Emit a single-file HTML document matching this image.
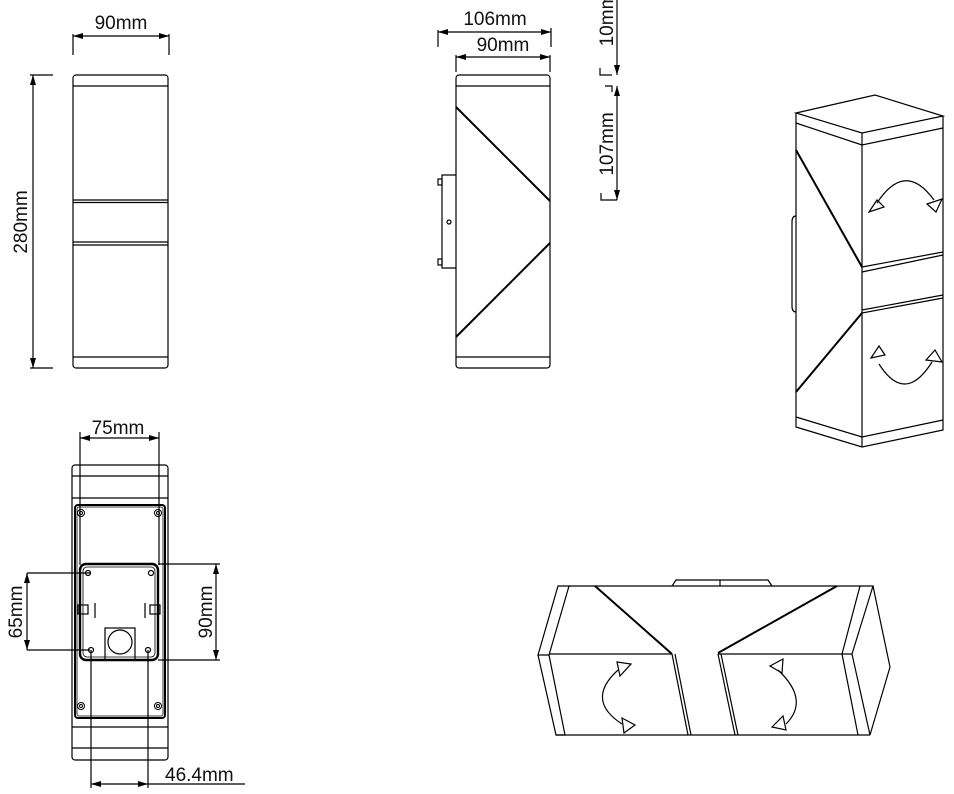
<!DOCTYPE html>
<html><head><meta charset="utf-8"><style>
html,body{margin:0;padding:0;background:#fff}
svg{display:block}
text{font-family:"Liberation Sans",sans-serif;font-size:19px;fill:#111}
</style></head><body>
<svg width="954" height="794" viewBox="0 0 954 794" xmlns="http://www.w3.org/2000/svg">
<defs>
<marker id="a" viewBox="0 0 10 6" refX="10" refY="3" markerWidth="10" markerHeight="6" orient="auto-start-reverse" markerUnits="userSpaceOnUse"><path d="M0,0L10,3L0,6z" fill="#000"/></marker>
</defs>
<g fill="none" stroke="#000" stroke-width="1.2">
<!-- View 1 -->
<rect x="73" y="75" width="95" height="293" rx="3"/>
<line x1="73" y1="86" x2="168" y2="86"/>
<line x1="73" y1="200" x2="168" y2="200"/><line x1="73" y1="202.5" x2="168" y2="202.5"/>
<line x1="73" y1="242" x2="168" y2="242"/><line x1="73" y1="245" x2="168" y2="245"/>
<line x1="73" y1="357" x2="168" y2="357"/>
<line x1="73" y1="34" x2="73" y2="55"/><line x1="169" y1="34" x2="169" y2="55"/>
<line x1="73" y1="36" x2="169" y2="36" marker-start="url(#a)" marker-end="url(#a)"/>
<line x1="33" y1="75" x2="33" y2="368" marker-start="url(#a)" marker-end="url(#a)"/>
<line x1="30" y1="75" x2="53" y2="75"/><line x1="30" y1="368" x2="53" y2="368"/>

<!-- View 2 -->
<rect x="456" y="75" width="94" height="293" rx="3"/>
<line x1="456" y1="86" x2="550" y2="86"/><line x1="456" y1="357" x2="550" y2="357"/>
<line x1="456" y1="107" x2="550" y2="201" stroke-width="2"/>
<line x1="550" y1="243" x2="456" y2="337" stroke-width="2"/>
<polyline points="456,175 442,175 442,268 456,268"/>
<rect x="438" y="179" width="4" height="6"/><rect x="438" y="259" width="4" height="6"/>
<circle cx="449" cy="222" r="2"/>
<line x1="438" y1="30" x2="438" y2="47"/><line x1="551" y1="28" x2="551" y2="47"/>
<line x1="438" y1="32" x2="551" y2="32" marker-start="url(#a)" marker-end="url(#a)"/>
<line x1="456" y1="55" x2="456" y2="72"/><line x1="550" y1="55" x2="550" y2="72"/>
<line x1="456" y1="57" x2="550" y2="57" marker-start="url(#a)" marker-end="url(#a)"/>
<line x1="617" y1="0" x2="617" y2="75" marker-end="url(#a)"/>
<polyline points="600,68 600,75 612,75"/>
<line x1="617" y1="86" x2="617" y2="200" marker-start="url(#a)" marker-end="url(#a)"/>
<polyline points="605,86 612,86 612,92"/>
<polyline points="601,193 601,200 617,200"/>

<!-- View 3 -->
<rect x="72" y="465" width="96" height="295" rx="3"/>
<line x1="72" y1="476" x2="168" y2="476"/><line x1="72" y1="498" x2="168" y2="498"/>
<line x1="72" y1="727" x2="168" y2="727"/><line x1="72" y1="748" x2="168" y2="748"/>
<rect x="75" y="505" width="90" height="213" rx="3" stroke-width="2"/>
<rect x="77" y="507" width="86" height="209" rx="2" stroke-width="0.8"/>
<g stroke-width="1"><circle cx="81" cy="513" r="3.5"/><circle cx="158" cy="513" r="3.5"/><circle cx="81" cy="706" r="3.5"/><circle cx="158" cy="706" r="3.5"/>
<circle cx="81" cy="513" r="1.5"/><circle cx="158" cy="513" r="1.5"/><circle cx="81" cy="706" r="1.5"/><circle cx="158" cy="706" r="1.5"/></g>
<rect x="80" y="564" width="78" height="96" rx="6" stroke-width="2.4"/>
<rect x="83" y="567" width="72" height="90" rx="4" stroke-width="0.8"/>
<circle cx="88" cy="573" r="2.5"/><circle cx="151" cy="573" r="2.5"/><circle cx="91" cy="650" r="2.5"/><circle cx="148" cy="650" r="2.5"/>
<rect x="78" y="605" width="10" height="9"/><rect x="150" y="605" width="10" height="9"/>
<polyline points="95,603 95,618"/><polyline points="145,603 145,618"/>
<rect x="105" y="628" width="30" height="32"/><circle cx="120" cy="642" r="12"/>
<line x1="80" y1="432" x2="80" y2="565"/><line x1="159" y1="432" x2="159" y2="565"/>
<line x1="80" y1="438" x2="159" y2="438" marker-start="url(#a)" marker-end="url(#a)"/>
<line x1="27" y1="573" x2="90" y2="573"/><line x1="27" y1="650" x2="90" y2="650"/>
<line x1="27" y1="573" x2="27" y2="650" marker-start="url(#a)" marker-end="url(#a)"/>
<line x1="158" y1="564" x2="220" y2="564"/><line x1="158" y1="660" x2="220" y2="660"/>
<line x1="216" y1="564" x2="216" y2="660" marker-start="url(#a)" marker-end="url(#a)"/>
<line x1="91" y1="650" x2="91" y2="788"/><line x1="148" y1="650" x2="148" y2="788"/>
<line x1="91" y1="784" x2="148" y2="784" marker-start="url(#a)" marker-end="url(#a)"/>
<line x1="148" y1="784" x2="245" y2="784"/>

<!-- View 4 -->
<polygon points="796,113 875,95 943,116 862,133"/>
<polyline points="796,123 862,145 943,128"/>
<line x1="862" y1="133" x2="862" y2="447"/>
<polyline points="796,113 796,427 862,447 943,430 943,116"/>
<polyline points="796,417 862,437 943,420"/>
<line x1="862" y1="267" x2="943" y2="252"/><line x1="862" y1="272" x2="943" y2="255"/>
<line x1="862" y1="310" x2="943" y2="295"/><line x1="862" y1="313" x2="943" y2="298"/>
<line x1="796" y1="150" x2="862" y2="267" stroke-width="2"/>
<line x1="862" y1="313" x2="796" y2="392" stroke-width="2"/>
<path d="M796,216 Q792,216 792,222 L792,306 Q792,312 796,312"/>
<path d="M877,203 Q905,160 934,200"/>
<polygon points="869,212 877,200 884,207"/><polygon points="927,204 942,199 936,212"/>
<path d="M879,364 Q905,405 932,362"/>
<polygon points="871,358 879,346 885,355"/><polygon points="926,360 935,350 942,362"/>

<!-- View 5 -->
<polygon points="538,655 558,586 569,586 549,655"/>
<polyline points="538,655 556,735 565,735 549,655"/>
<polyline points="569,586 860,586"/>
<line x1="595" y1="586" x2="672" y2="654" stroke-width="2"/>
<line x1="837" y1="586" x2="718" y2="653" stroke-width="2"/>
<line x1="549" y1="654" x2="672" y2="654"/><line x1="718" y1="654" x2="842" y2="654"/>
<line x1="672" y1="654" x2="688" y2="735"/><line x1="675" y1="654" x2="691" y2="735"/>
<line x1="718" y1="654" x2="735" y2="735"/><line x1="721" y1="654" x2="738" y2="735"/>
<line x1="556" y1="735" x2="870" y2="735"/>
<polygon points="842,654 860,586 873,586 852,654"/>
<polyline points="873,586 890,667 870,735 852,654"/>
<line x1="842" y1="654" x2="858" y2="735"/>
<polyline points="672,586 676,580 768,580 772,586"/><line x1="720" y1="580" x2="720" y2="586"/>
<path d="M618,670 Q585,700 622,724"/>
<polygon points="617,662 631,664 620,676"/><polygon points="622,718 635,725 624,733"/>
<path d="M778,670 Q810,700 786,724"/>
<polygon points="770,666 783,659 782,673"/><polygon points="772,727 783,716 786,730"/>
</g>
<text x="121" y="29" text-anchor="middle">90mm</text>
<text transform="translate(27,222) rotate(-90)" text-anchor="middle">280mm</text>
<text x="495" y="25" text-anchor="middle">106mm</text>
<text x="503" y="51" text-anchor="middle">90mm</text>
<text transform="translate(613,20) rotate(-90)" text-anchor="middle">10mm</text>
<text transform="translate(613,144) rotate(-90)" text-anchor="middle">107mm</text>
<text x="118" y="434" text-anchor="middle">75mm</text>
<text transform="translate(22,612) rotate(-90)" text-anchor="middle">65mm</text>
<text transform="translate(212,612) rotate(-90)" text-anchor="middle">90mm</text>
<text x="165" y="781">46.4mm</text>
</svg>
</body></html>
